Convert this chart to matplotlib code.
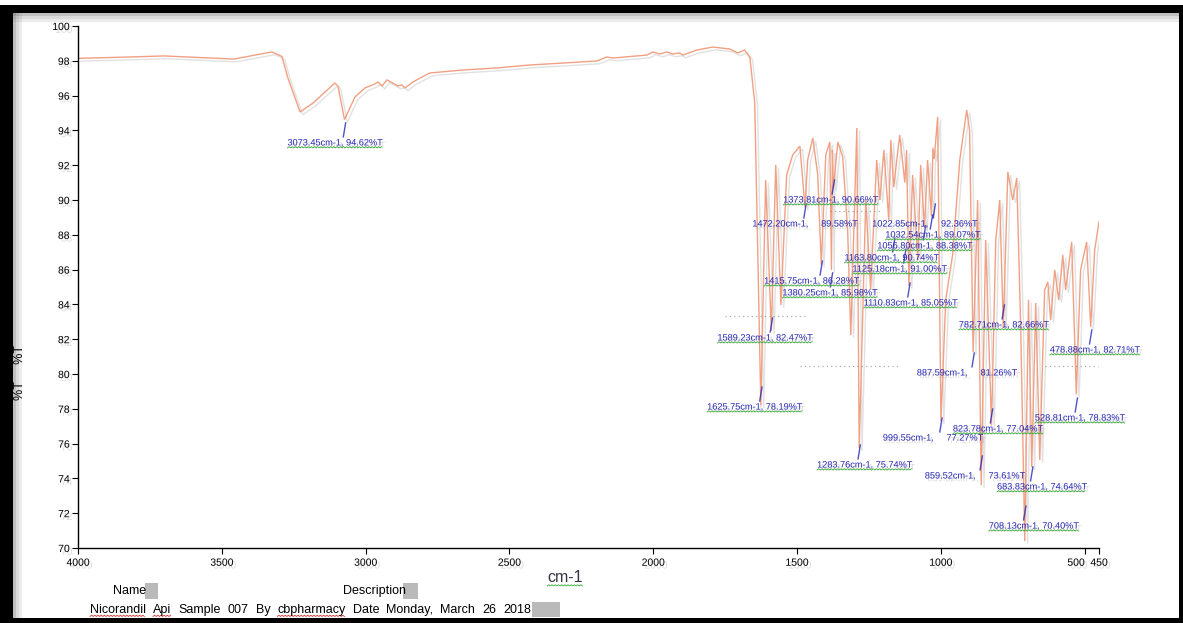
import matplotlib
matplotlib.use("Agg")
import matplotlib.pyplot as plt
import matplotlib.patheffects as pe
import numpy as np
from matplotlib.lines import Line2D
from matplotlib.patches import Rectangle
from matplotlib.transforms import IdentityTransform

plt.rcParams["font.family"] = ["Liberation Sans", "DejaVu Sans"]

# FTIR trace: wavenumber (cm-1) vs transmittance (%T)
wavenumber = [
    4000, 3819, 3701, 3576, 3458, 3326, 3291, 3270, 3228, 3183, 3141, 3107,
    3096, 3073.45, 3037, 3002, 2968, 2957, 2943, 2926, 2905, 2888, 2874, 2863,
    2836, 2777, 2662, 2544, 2429, 2314, 2196, 2161, 2140, 2022, 2001, 1977,
    1953, 1932, 1908, 1897, 1848, 1793, 1734, 1706, 1682, 1664, 1647, 1625.75,
    1609, 1589.23, 1574, 1556, 1536, 1515, 1490, 1472.20, 1463, 1445, 1428,
    1415.75, 1400, 1386, 1380.25, 1377, 1373.81, 1358, 1341, 1324, 1313, 1292,
    1283.76, 1261, 1244, 1223, 1212, 1198, 1181, 1174, 1163.80, 1143, 1125.18,
    1119, 1110.83, 1098, 1080, 1070, 1056.80, 1046, 1032.54, 1027.5, 1022.85,
    1011, 999.55, 983, 959, 934, 910, 900, 887.59, 872, 859.52, 844, 823.78,
    809, 795, 782.71, 767, 750, 736, 722, 708.13, 695, 683.83, 670, 656, 639,
    628, 618, 604, 590, 576, 566, 545, 528.81, 514, 493, 478.88, 465, 450,
]
transmittance = [
    98.14, 98.22, 98.28, 98.19, 98.10, 98.51, 98.25, 97.0, 95.06, 95.57, 96.21, 96.72,
    96.55, 94.62, 95.92, 96.44, 96.67, 96.78, 96.55, 96.90, 96.72, 96.55, 96.61, 96.44,
    96.78, 97.30, 97.47, 97.59, 97.76, 97.87, 97.99, 98.22, 98.16, 98.33, 98.51, 98.39,
    98.51, 98.39, 98.45, 98.33, 98.62, 98.79, 98.68, 98.45, 98.62, 98.20, 95.60, 78.19,
    91.15, 82.47, 92.01, 83.97, 91.44, 92.59, 93.10, 89.58, 92.30, 93.56, 91.44,
    86.28, 92.59, 93.33, 85.98, 92.87, 90.66, 93.33, 92.47, 88.28, 82.24, 94.14,
    75.74, 90.00, 84.83, 92.30, 90.00, 92.87, 88.85, 93.45, 90.74, 93.74, 91.00,
    92.87, 85.05, 91.44, 86.55, 92.01, 88.38, 92.30, 89.07, 93.00, 92.36,
    94.77, 77.27, 84.25, 86.84, 92.30, 95.17, 94.02, 81.26, 90.00, 73.61, 87.70, 77.04,
    87.70, 90.00, 82.66, 91.61, 90.00, 91.26, 82.53, 70.40, 84.25, 74.64, 84.08, 75.06, 84.83,
    85.29, 83.10, 85.98, 84.25, 86.84, 84.83, 87.59, 78.83, 85.98, 87.59, 82.71, 87.13, 88.74,
]

# picked peaks (cm-1, %T)
peak_wn = [3073.45, 1373.81, 1472.20, 1022.85, 1032.54, 1056.80, 1163.80, 1125.18,
           1415.75, 1380.25, 1110.83, 1589.23, 782.71, 478.88, 887.59, 1625.75,
           528.81, 823.78, 999.55, 1283.76, 859.52, 683.83, 708.13]
peak_t = [94.62, 90.66, 89.58, 92.36, 89.07, 88.38, 90.74, 91.00,
          86.28, 85.98, 85.05, 82.47, 82.66, 82.71, 81.26, 78.19,
          78.83, 77.04, 77.27, 75.74, 73.61, 74.64, 70.40]

# where each peak label is centred (cm-1, %T) and whether it uses the wide layout
label_wn = [3107, 1383, 1473, 1056, 1028, 1056, 1171, 1143,
            1449, 1386, 1105, 1612, 781, 465, 910, 1647,
            517, 802, 1028, 1265, 882, 649, 677]
label_t = [93.28, 90.0, 88.62, 88.62, 87.99, 87.36, 86.67, 86.03,
           85.34, 84.66, 84.08, 82.07, 82.82, 81.38, 80.06, 78.1,
           77.47, 76.84, 76.32, 74.77, 74.14, 73.51, 71.26]
wide_label = [False, False, True, True, False, False, False, False,
              False, False, False, False, False, False, True, False,
              False, False, True, False, True, False, False]

# faded leftover label rows (cm-1 start, cm-1 end, %T)
faded_rows = [(1751, 1473, 83.33), (1386, 1212, 89.37), (1490, 1143, 80.46), (639, 455, 80.46)]

x_ticks = [4000, 3500, 3000, 2500, 2000, 1500, 1000, 500, 450]
y_ticks = list(range(70, 101, 2))

footer_words = [("Nicorandil", True), ("Api", True), ("Sample", False), ("007", False),
                ("By", False), ("cbpharmacy", True), ("Date", False), ("Monday,", False),
                ("March", False), ("26", False), ("2018", False)]

W, H = 1183, 623
LINE = "#f2a083"
BLUE = "#2626b4"
GREEN = "#3aa83a"


def fx(x):
    return x / W


def fy(y):
    return 1 - y / H


def grey_box(x0, x1, y0, y1):
    fig.add_artist(Rectangle((fx(x0), fy(y1)), fx(x1 - x0), (y1 - y0) / H,
                             transform=fig.transFigure, color="0.55", alpha=0.6, lw=0))


fig = plt.figure(figsize=(W / 100, H / 100), dpi=100)
fig.patch.set_facecolor("white")
ax = fig.add_axes([fx(78), fy(548), fx(1099 - 78), (548 - 26) / H])

ax.plot(wavenumber, transmittance, color=LINE, lw=1.0, solid_joinstyle="miter",
        path_effects=[pe.SimpleLineShadow(offset=(2, -2), shadow_color="0.55", alpha=0.25),
                      pe.Normal()])

ax.set_xlim(4000, 450)
ax.set_ylim(70, 100)
ax.set_xticks(x_ticks)
ax.set_yticks(y_ticks)
for s in ("top", "right"):
    ax.spines[s].set_visible(False)
for s in ("left", "bottom"):
    ax.spines[s].set_linewidth(1.0)
ax.tick_params(axis="both", direction="out", length=4, width=0.8, labelsize=7.5, pad=2)
ax.tick_params(axis="x", pad=3)
shadow = [pe.withSimplePatchShadow(offset=(2, -2), shadow_rgbFace="0.6", alpha=0.35)]
for lab in ax.get_xticklabels() + ax.get_yticklabels():
    lab.set_path_effects(shadow)
xl = ax.get_xticklabels()
xl[-2].set_horizontalalignment("right")
xl[-1].set_horizontalalignment("center")

# peak markers and labels
squiggled = []
for wn, t, lw_, lt, wide in zip(peak_wn, peak_t, label_wn, label_t, wide_label):
    ax.plot([wn + 4, wn - 4], [lt + 0.35, lt + 1.15], color=BLUE, lw=1.0, alpha=0.8)
    if wide:
        txt = f"{wn:.2f}cm-1,     {t:.2f}%T"
    else:
        txt = f"{wn:.2f}cm-1, {t:.2f}%T"
    tx = ax.text(lw_, lt, txt, ha="center", va="center", fontsize=6.6, color=BLUE,
                 path_effects=shadow)
    if not wide:
        squiggled.append(tx)

for a, b, t in faded_rows:
    ax.plot([a, b], [t, t], color="0.55", lw=0.9, ls=(0, (1, 2.5)), alpha=0.7)

# axis titles
fig.text(fx(565), fy(578), "cm-1", fontsize=11.5, color="#333344", ha="center", va="center")
fig.text(fx(20), fy(372), "%T     %T", rotation=90, fontsize=9, ha="center", va="center")

# footer
fig.text(fx(113), fy(591), "Name", fontsize=9, va="center")
fig.text(fx(343), fy(591), "Description", fontsize=9, va="center")
grey_box(145, 158, 583, 599)
grey_box(403, 418, 583, 599)

renderer = fig.canvas.get_renderer()
footer_texts = []
cursor = 90
for word, flagged in footer_words:
    t = fig.text(fx(cursor), fy(610), word, fontsize=9, va="center")
    bb = t.get_window_extent(renderer)
    cursor = bb.x1 + 7
    if flagged:
        footer_texts.append(t)
grey_box(cursor - 6, cursor + 22, 602, 617)


def squiggle(text, color):
    bb = text.get_window_extent(renderer)
    xs = np.arange(bb.x0, bb.x1, 1.6)
    ys = bb.y0 - 0.5 + (np.arange(len(xs)) % 2) * 1.3
    fig.add_artist(Line2D(xs, ys, transform=IdentityTransform(), color=color, lw=0.6))


for t in squiggled:
    squiggle(t, GREEN)
for t in footer_texts:
    squiggle(t, "#d83030")
squiggle(fig.texts[0], GREEN)

# black picture frame with a soft inner shadow
frame = [(0, 5, W, 8), (0, 5, 13, H - 5), (W - 4, 5, 4, H - 5), (0, H - 5, W, 5)]
for x0, y0, w, h in frame:
    fig.add_artist(Rectangle((fx(x0), fy(y0 + h)), fx(w), h / H,
                             transform=fig.transFigure, color="black", lw=0))
for i, a in enumerate([0.35, 0.2, 0.1]):
    fig.add_artist(Rectangle((fx(13), fy(13 + 3 * (i + 1))), fx(W - 17), 3 / H,
                             transform=fig.transFigure, color="0.3", alpha=a, lw=0))
    fig.add_artist(Rectangle((fx(13 + 3 * i), fy(H - 5)), fx(3), (H - 18) / H,
                             transform=fig.transFigure, color="0.3", alpha=a, lw=0))

fig.savefig("out.png", dpi=100)
